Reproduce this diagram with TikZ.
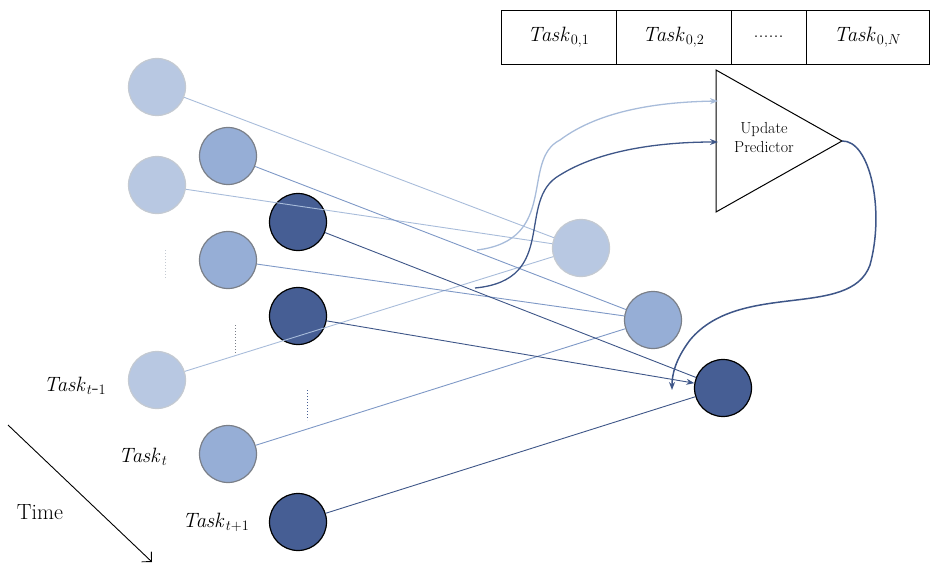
\documentclass[tikz,border=0pt]{standalone}
\usetikzlibrary{arrows.meta}
\begin{document}
\begin{tikzpicture}[x=1pt,y=-1pt,
 lt/.style={circle,minimum size=57pt,inner sep=0pt,fill=cL,draw=cLd,line width=1.2pt},
 md/.style={circle,minimum size=57pt,inner sep=0pt,fill=cM,draw=cMd,line width=1.2pt},
 dk/.style={circle,minimum size=57pt,inner sep=0pt,fill=cD,draw=black,line width=1.2pt},
 ll/.style={draw=lL,line width=0.9pt},
 ml/.style={draw=lM,line width=0.9pt},
 dl/.style={draw=lD,line width=0.9pt},
 lab/.style={font=\fontsize{22}{24}\selectfont},
 cell/.style={draw,line width=0.9pt,minimum height=54pt,inner sep=0pt,font=\fontsize{20}{22}\selectfont}]
\definecolor{cL}{HTML}{B8C8E2}\definecolor{cLd}{HTML}{C4CAD2}
\definecolor{cM}{HTML}{96AED6}\definecolor{cMd}{HTML}{7A7F88}
\definecolor{cD}{HTML}{465E94}
\definecolor{lL}{HTML}{A8BCDA}\definecolor{lM}{HTML}{7E98C6}\definecolor{lD}{HTML}{3E5688}
\useasboundingbox (0,0) rectangle (933,564);
\node[lt] (A1) at (157,87) {};
\node[lt] (A2) at (157,185) {};
\node[lt] (A3) at (157,380) {};
\node[md] (B1) at (228,156) {};
\node[md] (B2) at (228,260) {};
\node[md] (B3) at (228,454) {};
\node[dk] (C1) at (298,222) {};
\node[dk] (C2) at (298,316) {};
\node[dk] (C3) at (298,522) {};
\node[lt] (R1) at (581,248) {};
\node[md] (R2) at (653,320) {};
\node[dk] (R3) at (723,388) {};
\draw[ll] (A1) -- (R1); \draw[ll] (A2) -- (R1); \draw[ll] (A3) -- (R1);
\draw[ml] (B1) -- (R2); \draw[ml] (B2) -- (R2); \draw[ml] (B3) -- (R2);
\draw[dl] (C1) -- (R3); \draw[dl,-{Stealth[length=8pt]}] (C2) -- (R3); \draw[dl] (C3) -- (R3);
\draw[cLd,dotted,line width=1pt] (165,250) -- (165,278);
\draw[cMd,dotted,line width=1pt] (235,325) -- (235,355);
\draw[cD,dotted,line width=1pt] (307,390) -- (307,420);
% triangle
\coordinate (t1) at (716,70); \coordinate (t2) at (716,212); \coordinate (tip) at (842,141);
\draw[line width=1pt] (t1) -- (tip) -- (t2) -- cycle;
\node[align=center,font=\fontsize{16}{19}\selectfont] (up) at (764,138) {Update\\Predictor};
\coordinate (in1) at (718,101); \coordinate (in2) at (718,142);
\coordinate (s1) at (477,250); \coordinate (s2) at (475,288);
\draw[lL,line width=1.3pt,-{Stealth[length=8pt]}] (s1) .. controls (560,240) and (520,160) .. (560,140) .. controls (600,110) and (660,102) .. (in1);
\draw[lD,line width=1.3pt,-{Stealth[length=8pt]}] (s2) .. controls (560,280) and (515,200) .. (560,175) .. controls (600,150) and (660,142) .. (in2);
\coordinate (e3) at (672,390);
\draw[lD,line width=1.5pt,-{Stealth[length=8pt]}] (tip) .. controls (870,140) and (885,210) .. (870,265) .. controls (850,320) and (740,280) .. (690,340) .. controls (675,360) and (672,375) .. (e3);
% table
\node[cell,minimum width=115pt] (k1) at (558.5,37) {$\mathit{Task}_{0,1}$};
\node[cell,minimum width=115pt] (k2) at (673.5,37) {$\mathit{Task}_{0,2}$};
\node[cell,minimum width=75pt] (k3) at (768.5,37) {......};
\node[cell,minimum width=123pt] (k4) at (867.5,37) {$\mathit{Task}_{0,N}$};
% labels
\node[lab] (L1) at (75,386) {$\mathit{Task}_{t\mbox{-}1}$};
\node[lab] (L2) at (143,457) {$\mathit{Task}_{t}$};
\node[lab] (L3) at (216,522) {$\mathit{Task}_{t+1}$};
\node[lab] (tm) at (40,512) {Time};
\coordinate (ta) at (8,425); \coordinate (tb) at (152,562);
\draw[line width=0.9pt,-{Straight Barb[length=7pt]}] (ta) -- (tb);
\end{tikzpicture}
\end{document}
